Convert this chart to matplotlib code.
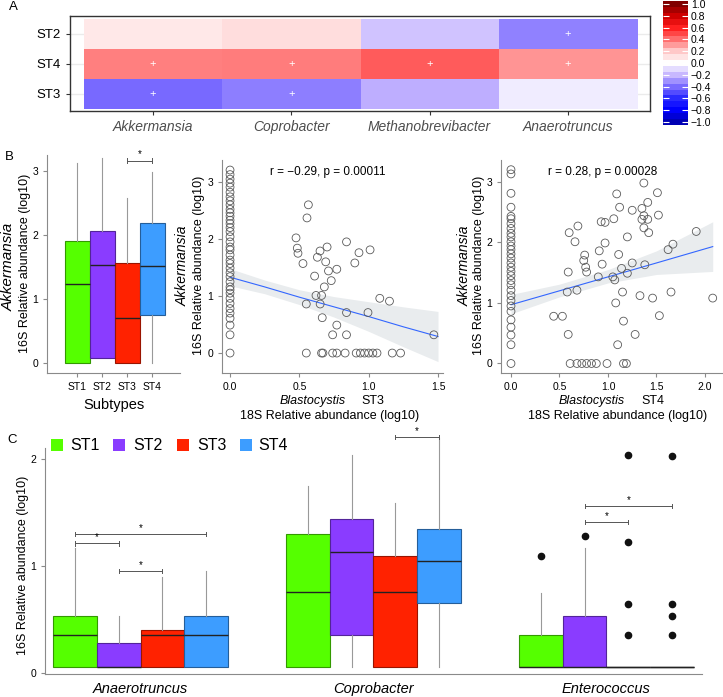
import numpy as np
import matplotlib.pyplot as plt
from matplotlib.colors import LinearSegmentedColormap, to_rgb
from matplotlib.patches import Rectangle

plt.rcParams['font.family'] = ['Liberation Sans', 'DejaVu Sans']

# ---------------- data ----------------
# panel A: correlation heatmap (rows bottom -> top)
genera_a = ['Akkermansia', 'Coprobacter', 'Methanobrevibacter', 'Anaerotruncus']
rows_a = ['ST3', 'ST4', 'ST2']
corr_a = [[-0.40, -0.35, -0.22, -0.05],
          [0.36, 0.37, 0.45, 0.32],
          [0.08, 0.12, -0.17, -0.34]]
sig_a = [[1, 1, 0, 0],
         [1, 1, 1, 1],
         [0, 0, 0, 1]]
cbar_ticks = [1.0, 0.8, 0.6, 0.4, 0.2, 0.0, -0.2, -0.4, -0.6, -0.8, -1.0]

# panel B: Akkermansia by subtype
subtypes = ['ST1', 'ST2', 'ST3', 'ST4']
st_colors = ['#55FF00', '#8A3CFF', '#FF2200', '#3D9DFF']
akk_q1 = [0.0, 0.08, 0.0, 0.75]
akk_med = [1.23, 1.53, 0.70, 1.51]
akk_q3 = [1.90, 2.06, 1.56, 2.19]
akk_lo = [0.0, 0.08, 0.0, 0.0]
akk_hi = [3.12, 3.20, 2.58, 2.98]

# scatter ST3
st3_x = [0.0] * 38 + [
    0.565, 0.555, 0.476, 0.485, 0.49, 0.526, 0.649, 0.63, 0.70, 0.69, 0.84, 0.93,
    1.01, 0.90, 0.71, 0.77, 0.61, 0.73, 0.68, 0.62, 0.66, 0.65, 0.55, 1.08, 1.15,
    0.84, 0.995, 0.665, 0.77, 0.74, 0.84, 1.47,
    0.55, 0.66, 0.67, 0.74, 0.77, 0.83, 0.91, 0.94, 0.97, 1.0, 1.03, 1.06, 1.17, 1.23]
st3_y = [3.21, 3.13, 3.05, 2.98, 2.91, 2.82, 2.74, 2.67, 2.60, 2.52, 2.46, 2.40, 2.33,
         2.27, 2.20, 2.13, 2.04, 1.95, 1.86, 1.81, 1.72, 1.63, 1.57, 1.49, 1.41, 1.34,
         1.25, 1.16, 1.11, 1.05, 0.96, 0.87, 0.78, 0.70, 0.61, 0.49, 0.32, 0.0] + [
    2.60, 2.37, 2.02, 1.84, 1.75, 1.57, 1.79, 1.68, 1.86, 1.60, 1.95, 1.76,
    1.81, 1.58, 1.44, 1.47, 1.35, 1.27, 1.16, 1.01, 1.01, 0.86, 0.86, 0.96, 0.91,
    0.71, 0.71, 0.62, 0.49, 0.32, 0.32, 0.32,
    0, 0, 0, 0, 0, 0, 0, 0, 0, 0, 0, 0, 0, 0]
st3_band_x = [0.0, 0.25, 0.5, 0.75, 1.0, 1.25, 1.5]
st3_fit = [1.33, 1.16, 0.98, 0.81, 0.64, 0.46, 0.29]
st3_lo = [1.18, 1.04, 0.85, 0.63, 0.38, 0.11, -0.15]
st3_hi = [1.48, 1.28, 1.11, 0.99, 0.90, 0.81, 0.73]

# scatter ST4
st4_x = [0.0] * 31 + [
    1.09, 1.37, 1.51, 1.41, 1.35, 1.25, 1.12, 1.37, 1.41, 1.35, 1.52, 1.37, 1.42,
    0.93, 0.97, 1.06, 0.69, 0.60, 0.66, 1.20, 0.97, 0.91, 0.76, 1.11, 0.75, 0.77,
    0.78, 0.94, 0.59, 1.25, 1.38, 1.14, 1.20, 0.90, 1.05, 1.07, 1.62, 1.67, 1.91,
    0.58, 0.68, 1.15, 1.33, 1.46, 1.65, 2.08, 1.08, 0.44, 0.53, 1.53, 1.16,
    0.59, 1.28, 1.10,
    0.61, 0.68, 0.73, 0.78, 0.83, 0.88, 0.99, 1.16, 1.19]
st4_y = [3.20, 3.13, 2.81, 2.58, 2.43, 2.39, 2.31, 2.23, 2.15, 2.09, 2.01, 1.94, 1.88,
         1.81, 1.74, 1.66, 1.59, 1.52, 1.45, 1.37, 1.30, 1.21, 1.12, 1.04, 0.95, 0.86,
         0.72, 0.60, 0.47, 0.31, 0.0] + [
    2.80, 2.98, 2.82, 2.66, 2.56, 2.53, 2.58, 2.44, 2.38, 2.38, 2.45, 2.24, 2.16,
    2.34, 2.33, 2.39, 2.27, 2.16, 2.01, 2.09, 1.99, 1.86, 1.79, 1.80, 1.70, 1.59,
    1.51, 1.64, 1.51, 1.66, 1.63, 1.57, 1.49, 1.43, 1.43, 1.38, 1.88, 1.97, 2.18,
    1.18, 1.21, 1.18, 1.12, 1.08, 1.18, 1.08, 1.00, 0.78, 0.78, 0.79, 0.70,
    0.48, 0.48, 0.31,
    0, 0, 0, 0, 0, 0, 0, 0, 0]
st4_band_x = [0.0, 0.5, 1.0, 1.5, 2.08]
st4_fit = [0.97, 1.20, 1.43, 1.66, 1.93]
st4_lo = [0.82, 1.10, 1.33, 1.47, 1.52]
st4_hi = [1.14, 1.31, 1.55, 1.86, 2.34]

# panel C: three genera by subtype
genera_c = ['Anaerotruncus', 'Coprobacter', 'Enterococcus']
c_q1 = [[0.053, 0.053, 0.053, 0.053], [0.053, 0.355, 0.053, 0.654], [0.053, 0.053, 0.053, 0.053]]
c_med = [[0.355, 0.053, 0.355, 0.355], [0.754, 1.128, 0.754, 1.05], [0.053, 0.053, 0.053, 0.053]]
c_q3 = [[0.53, 0.28, 0.40, 0.53], [1.30, 1.436, 1.093, 1.343], [0.355, 0.53, 0.053, 0.053]]
c_lo = [[0.053] * 4, [0.053] * 4, [0.053] * 4]
c_hi = [[1.165, 0.53, 0.90, 0.955], [1.75, 2.04, 1.59, 2.2], [0.75, 1.165, 0.053, 0.053]]
c_fliers = [[[], [], [], []],
            [[], [], [], []],
            [[1.093], [1.283], [2.04, 1.224, 0.648, 0.355], [2.025, 0.648, 0.53, 0.35]]]
# (genus, subtype a, subtype b, height)
c_brackets = [(0, 0, 3, 1.30), (0, 0, 1, 1.21), (0, 1, 2, 0.955),
              (1, 2, 3, 2.205), (2, 1, 2, 1.41), (2, 1, 3, 1.56)]

# ---------------- figure ----------------
W, H = 723, 697
fig = plt.figure(figsize=(W / 100, H / 100), dpi=100)


def px_box(l, t, r, b):
    return [l / W, 1 - b / H, (r - l) / W, (b - t) / H]


def darker(c, f=0.6):
    return tuple(v * f for v in to_rgb(c))


axis_gray = '#8a8a8a'

# ---- A ----
cmap = LinearSegmentedColormap.from_list('corr', [
    (0.0, '#0000B4'), (0.1, '#0000FF'), (0.2, '#2A2AFF'), (0.3, '#7A6BFF'),
    (0.4, '#C8B8FF'), (0.5, '#FFFFFF'), (0.6, '#FFC8C8'), (0.7, '#FF7070'),
    (0.8, '#FF2020'), (0.9, '#D00000'), (1.0, '#800000')])

axA = fig.add_axes(px_box(70, 16, 650, 111))
axA.imshow(corr_a, cmap=cmap, vmin=-1, vmax=1, aspect='auto', origin='lower',
           extent=(-0.5, 3.5, -0.5, 2.5), zorder=2)
for i in range(len(rows_a)):
    axA.axhline(i, color='#ebebeb', lw=1, zorder=1)
    for j in range(len(genera_a)):
        if sig_a[i][j]:
            axA.text(j, i, '+', color='white', ha='center', va='center', fontsize=8, zorder=3)
axA.set_xlim(-0.601, 3.594)
axA.set_ylim(-0.567, 2.6)
axA.set_xticks(range(4))
axA.set_xticklabels(genera_a, style='italic', fontsize=10, color='#4d4d4d')
axA.set_yticks(range(3))
axA.set_yticklabels(rows_a, fontsize=9.5)
axA.tick_params(length=3, width=0.8, color='#333333')
for s in axA.spines.values():
    s.set_linewidth(1)
    s.set_color('#333333')

# colourbar
axCb = fig.add_axes(px_box(663, 1, 688, 125))
centers = np.round(np.arange(-10, 11) * 0.1, 2)
edges = np.arange(-10.5, 11.5) * 0.1
axCb.pcolormesh([0, 1], edges, centers.reshape(-1, 1), cmap=cmap, vmin=-1, vmax=1)
axCb.set_ylim(-1.05, 1.05)
axCb.set_xlim(0, 1)
axCb.set_xticks([])
axCb.set_yticks(cbar_ticks)
axCb.set_yticklabels([f'{t:.1f}'.replace('-', '\u2212') for t in cbar_ticks], fontsize=7.5)
axCb.yaxis.tick_right()
axCb.tick_params(axis='y', direction='in', length=4, color='white', pad=2, right=True, left=True)
for s in axCb.spines.values():
    s.set_visible(False)

# ---- B left: boxplot ----
axB = fig.add_axes(px_box(47, 155, 180, 373))
stats = [dict(med=akk_med[k], q1=akk_q1[k], q3=akk_q3[k], whislo=akk_lo[k],
              whishi=akk_hi[k], fliers=[]) for k in range(4)]
bp = axB.bxp(stats, positions=[1, 2, 3, 4], widths=1.0, patch_artist=True, showcaps=False,
             whiskerprops=dict(color='#999999', lw=0.8),
             medianprops=dict(color='#222222', lw=1.0))
for patch, c in zip(bp['boxes'], st_colors):
    patch.set_facecolor(c)
    patch.set_edgecolor(darker(c))
    patch.set_linewidth(0.8)
axB.plot([3, 4], [3.16, 3.16], color='#555555', lw=0.7)
axB.plot([3, 3], [3.12, 3.20], color='#555555', lw=0.7)
axB.plot([4, 4], [3.12, 3.20], color='#555555', lw=0.7)
axB.text(3.5, 3.18, '*', ha='center', va='bottom', fontsize=7)
axB.set_xlim(-0.2, 5.12)
axB.set_ylim(-0.156, 3.25)
axB.set_xticks([1, 2, 3, 4])
axB.set_xticklabels(subtypes, fontsize=7.5)
axB.set_yticks([0, 1, 2, 3])
axB.tick_params(labelsize=7.5, color=axis_gray, length=3)
for s in ['top', 'right']:
    axB.spines[s].set_visible(False)
for s in ['left', 'bottom']:
    axB.spines[s].set_color(axis_gray)
axB.set_xlabel('Subtypes', fontsize=10.5, labelpad=4)
fig.text(9 / W, 1 - 267 / H, 'Akkermansia', style='italic', rotation=90, fontsize=11,
         ha='center', va='center')
fig.text(25 / W, 1 - 263 / H, '16S Relative abundance (log10)', rotation=90, fontsize=9,
         ha='center', va='center')


# ---- B scatters ----
def scatter_panel(rect, xs, ys, bx, fit, lo, hi, xlim, ylim, xticks, annot, st_lab,
                  lab_x, ann_x):
    ax = fig.add_axes(px_box(*rect))
    ax.fill_between(bx, lo, hi, color='#e9ecee', lw=0, zorder=1)
    ax.plot(bx, fit, color='#3366FF', lw=0.8, zorder=2)
    ax.scatter(xs, ys, s=32, facecolors='none', edgecolors='#5a5a5a', linewidths=0.6, zorder=3)
    ax.set_xlim(*xlim)
    ax.set_ylim(*ylim)
    ax.set_xticks(xticks)
    ax.set_xticklabels([f'{t:.1f}' for t in xticks])
    ax.set_yticks([0, 1, 2, 3])
    ax.tick_params(labelsize=7.5, color=axis_gray, length=3)
    for s in ['top', 'right']:
        ax.spines[s].set_visible(False)
    for s in ['left', 'bottom']:
        ax.spines[s].set_color(axis_gray)
    fig.text(ann_x / W, 1 - 172 / H, annot, ha='center', va='center', fontsize=8.5)
    fig.text(lab_x[0] / W, 1 - 401 / H, 'Blastocystis', style='italic', ha='center',
             va='center', fontsize=9)
    fig.text(lab_x[1] / W, 1 - 401 / H, st_lab, ha='center', va='center', fontsize=9)
    fig.text(lab_x[2] / W, 1 - 416 / H, '18S Relative abundance (log10)', ha='center',
             va='center', fontsize=9)
    fig.text(lab_x[3] / W, 1 - 266 / H, 'Akkermansia', style='italic', rotation=90,
             fontsize=10, ha='center', va='center')
    fig.text(lab_x[4] / W, 1 - 265 / H, '16S Relative abundance (log10)', rotation=90,
             fontsize=9, ha='center', va='center')
    return ax


scatter_panel((222, 160, 443, 373), st3_x, st3_y, st3_band_x, st3_fit, st3_lo, st3_hi,
              (-0.058, 1.536), (-0.35, 3.386), [0.0, 0.5, 1.0, 1.5],
              'r = \u22120.29, p = 0.00011', 'ST3', (313, 373, 330, 183, 199), 328)
scatter_panel((501, 160, 723, 373), st4_x, st4_y, st4_band_x, st4_fit, st4_lo, st4_hi,
              (-0.103, 2.186), (-0.157, 3.36), [0.0, 0.5, 1.0, 1.5, 2.0],
              'r = 0.28, p = 0.00028', 'ST4', (592, 653, 618, 465, 479), 603)

# ---- C ----
# y axis runs to 2.1, but whisker / bracket of Coprobacter reach a bit higher
c_top = 2.3
axC = fig.add_axes(px_box(45, 673 - c_top * 107, 702, 674))
offs = [-1.5, -0.5, 0.5, 1.5]
bw = 0.1875
for g in range(3):
    stats = [dict(med=c_med[g][k], q1=c_q1[g][k], q3=c_q3[g][k], whislo=c_lo[g][k],
                  whishi=c_hi[g][k], fliers=c_fliers[g][k]) for k in range(4)]
    pos = [g + 1 + o * bw for o in offs]
    bp = axC.bxp(stats, positions=pos, widths=bw, patch_artist=True, showcaps=False,
                 whiskerprops=dict(color='#999999', lw=0.8),
                 medianprops=dict(color='#222222', lw=1.0),
                 flierprops=dict(marker='o', markerfacecolor='#111111',
                                 markeredgecolor='#111111', markersize=4.5))
    for k, (patch, c) in enumerate(zip(bp['boxes'], st_colors)):
        patch.set_facecolor(c)
        flat = c_q1[g][k] == c_q3[g][k]
        patch.set_edgecolor('#222222' if flat else darker(c))
        patch.set_linewidth(1.0 if flat else 0.8)
for g, a, b, y in c_brackets:
    x1 = g + 1 + offs[a] * bw
    x2 = g + 1 + offs[b] * bw
    axC.plot([x1, x2], [y, y], color='#555555', lw=0.7)
    axC.plot([x1, x1], [y - 0.02, y + 0.02], color='#555555', lw=0.7)
    axC.plot([x2, x2], [y - 0.02, y + 0.02], color='#555555', lw=0.7)
    axC.text((x1 + x2) / 2, y + 0.01, '*', ha='center', va='bottom', fontsize=7)
axC.set_xlim(0.59, 3.41)
axC.set_ylim(-0.01, c_top)
axC.spines['left'].set_bounds(-0.01, 2.1)
axC.set_xticks([1, 2, 3])
axC.set_xticklabels(genera_c, style='italic', fontsize=10.5)
axC.set_yticks([0, 1, 2])
axC.tick_params(axis='y', labelsize=7.5, color=axis_gray, length=3)
axC.tick_params(axis='x', length=0, pad=6)
for s in ['top', 'right']:
    axC.spines[s].set_visible(False)
for s in ['left', 'bottom']:
    axC.spines[s].set_color(axis_gray)
fig.text(23 / W, 1 - 565 / H, '16S Relative abundance (log10)', rotation=90, fontsize=9,
         ha='center', va='center')

# legend for C
sq_x = [51, 113, 177, 240]
txt_x = [70, 133, 197, 258]
for k in range(4):
    fig.add_artist(Rectangle((sq_x[k] / W, 1 - 451 / H), 12 / W, 12 / H,
                             transform=fig.transFigure, facecolor=st_colors[k],
                             edgecolor='none'))
    fig.text(txt_x[k] / W, 1 - 445 / H, subtypes[k], ha='left', va='center', fontsize=11.5)

# panel letters
fig.text(13 / W, 1 - 7 / H, 'A', ha='center', va='center', fontsize=9.5)
fig.text(9 / W, 1 - 157 / H, 'B', ha='center', va='center', fontsize=9.5)
fig.text(12 / W, 1 - 440 / H, 'C', ha='center', va='center', fontsize=9.5)

fig.savefig('out.png', dpi=100)
